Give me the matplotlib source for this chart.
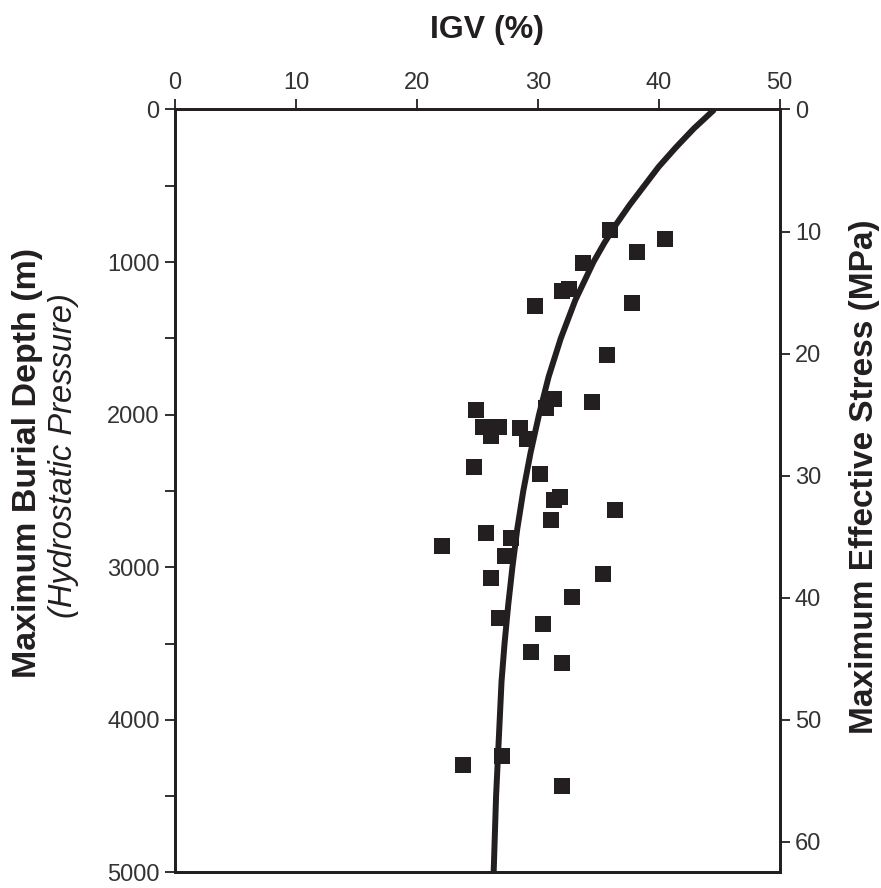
import matplotlib
matplotlib.use('Agg')
import matplotlib.pyplot as plt
from matplotlib.ticker import MultipleLocator

#---------------------Data----------------------------
# scatter points: IGV (%), maximum burial depth (m)
igv = [36.0, 40.5, 38.2, 33.7, 32.0, 32.6, 29.8, 37.8, 35.7, 34.5,
       31.3, 30.7, 24.9, 25.5, 26.8, 26.1, 28.5, 29.1, 24.7, 30.2,
       31.8, 31.3, 31.1, 36.4, 25.7, 27.8, 27.3, 22.1, 26.1, 35.4,
       32.8, 26.8, 30.4, 29.4, 32.0, 23.8, 27.0, 32.0]
depth = [790, 849, 932, 1008, 1187, 1178, 1288, 1268, 1609, 1920,
         1895, 1958, 1969, 2078, 2078, 2140, 2087, 2160, 2341, 2389,
         2537, 2559, 2690, 2625, 2777, 2805, 2926, 2860, 3070, 3045,
         3197, 3334, 3373, 3557, 3625, 4296, 4235, 4431]

# trend curve
curve_depth = [0, 125, 250, 375, 500, 625, 750, 875, 1000, 1250, 1500, 1750,
               2000, 2250, 2500, 2750, 3000, 3250, 3500, 3750, 4000, 4250,
               4500, 4750, 5000]
curve_igv = [44.6, 42.9, 41.4, 40.0, 38.8, 37.6, 36.5, 35.5, 34.6, 33.1,
             31.9, 30.9, 30.1, 29.4, 28.8, 28.3, 27.9, 27.55, 27.25, 27.0,
             26.85, 26.7, 26.55, 26.45, 26.35]

igv_ticks = [0, 10, 20, 30, 40, 50]
depth_ticks = [0, 1000, 2000, 3000, 4000, 5000]
stress_ticks = [0, 10, 20, 30, 40, 50, 60]

#---------------------Figure--------------------------
plt.rcParams['font.family'] = ['Liberation Sans', 'DejaVu Sans']
ink = '#231f20'
tick_col = '#333333'

fig = plt.figure(figsize=(8.81, 8.88), dpi=100)
ax = fig.add_axes([0.1986, 0.0175, 0.6864, 0.8592])

ax.plot(curve_igv, curve_depth, color=ink, lw=4.3, solid_capstyle='butt',
        solid_joinstyle='round', zorder=2)
ax.plot(igv, depth, 's', color=ink, markersize=12, markeredgewidth=0, zorder=3)

ax.set_xlim(0, 50)
ax.set_ylim(5000, 0)
ax.xaxis.tick_top()
ax.xaxis.set_label_position('top')
ax.set_xticks(igv_ticks)
ax.set_yticks(depth_ticks)
ax.yaxis.set_minor_locator(MultipleLocator(500))
ax.tick_params(axis='both', which='major', direction='out', length=7, width=1.3,
               labelsize=17, colors=ink, labelcolor=tick_col, pad=4)
ax.tick_params(axis='y', which='minor', direction='out', length=7, width=1.3, colors=ink)
for s in ax.spines.values():
    s.set_linewidth(2)
    s.set_color(ink)

# right axis: effective stress
ax2 = ax.twinx()
ax2.set_ylim(62.5, 0)
ax2.set_yticks(stress_ticks)
ax2.tick_params(axis='y', direction='out', length=7, width=1.3, labelsize=17,
                colors=ink, labelcolor=tick_col, pad=4)
for s in ax2.spines.values():
    s.set_linewidth(2)
    s.set_color(ink)

#---------------------Labels--------------------------
fig.text(487 / 881, 1 - 30 / 888, 'IGV (%)', ha='center', va='center',
         fontsize=23, fontweight='bold', color=ink)
fig.text(28 / 881, 1 - 463 / 888, 'Maximum Burial Depth (m)', rotation=90,
         ha='center', va='center', fontsize=24.5, fontweight='bold', color=ink)
fig.text(64 / 881, 1 - 456 / 888, '(Hydrostatic Pressure)', rotation=90,
         ha='center', va='center', fontsize=23.5, style='italic', color=ink)
fig.text(865 / 881, 1 - 477 / 888, 'Maximum Effective Stress (MPa)', rotation=90,
         ha='center', va='center', fontsize=24, fontweight='bold', color=ink)

fig.savefig('out.png', dpi=100)
